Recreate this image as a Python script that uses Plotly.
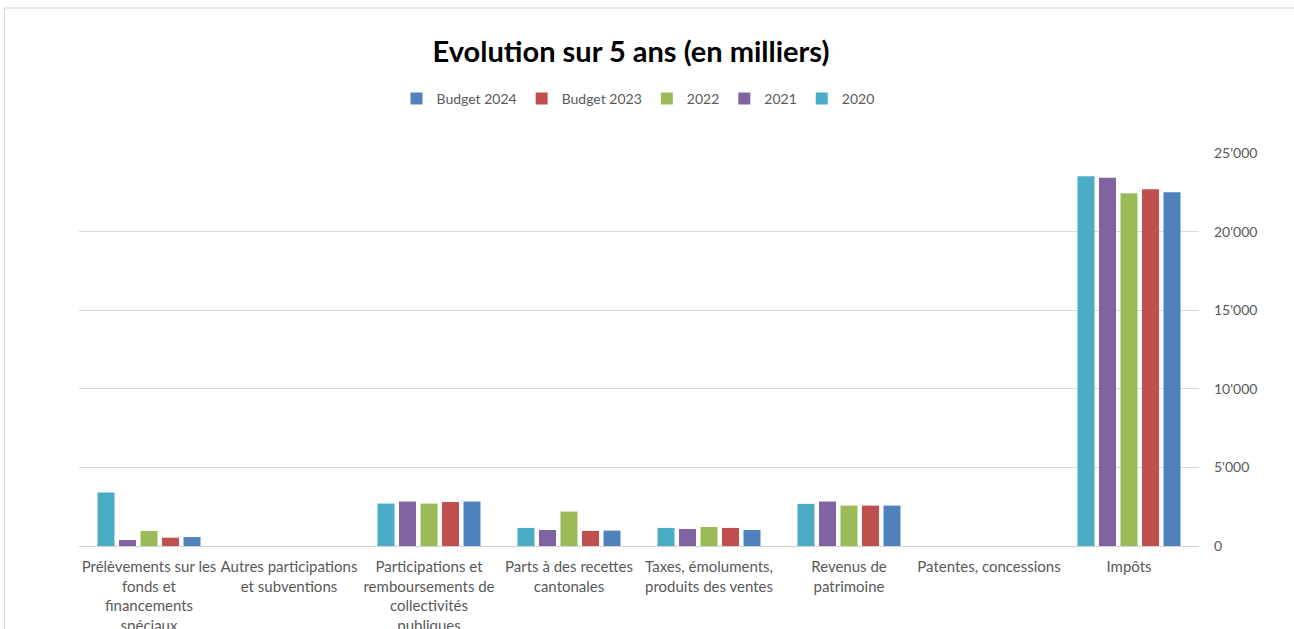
import plotly.graph_objects as go

categories = [
    "Prélèvements sur les<br>fonds et<br>financements<br>spéciaux",
    "Autres participations<br>et subventions",
    "Participations et<br>remboursements de<br>collectivités<br>publiques",
    "Parts à des recettes<br>cantonales",
    "Taxes, émoluments,<br>produits des ventes",
    "Revenus de<br>patrimoine",
    "Patentes, concessions",
    "Impôts",
]

v2020 = [3400, 0, 2700, 1150, 1150, 2680, 0, 23520]
v2021 = [380, 0, 2830, 1020, 1080, 2830, 0, 23420]
v2022 = [955, 0, 2700, 2190, 1210, 2570, 0, 22440]
vb2023 = [530, 0, 2800, 960, 1150, 2570, 0, 22690]
vb2024 = [570, 0, 2830, 980, 1020, 2570, 0, 22500]

series = [
    ("2020", v2020, "#4BACC6"),
    ("2021", v2021, "#8064A2"),
    ("2022", v2022, "#9BBB59"),
    ("Budget 2023", vb2023, "#C0504D"),
    ("Budget 2024", vb2024, "#4F81BD"),
]

FONT = "Lato, Carlito, Calibri, sans-serif"
GREY = "#595959"

fig = go.Figure()
for name, vals, col in series:
    fig.add_trace(go.Bar(x=categories, y=vals, name=name,
                         marker=dict(color=col, line=dict(width=0))))

W, H = 1294, 629
L, R, T, B = 79, 95, 153, 83
pw, ph = W - L - R, H - T - B

def px_x(p):
    return (p - L) / pw

def px_y(p):
    return (H - B - p) / ph

fig.update_layout(
    width=W, height=H,
    margin=dict(l=L, r=R, t=T, b=B, autoexpand=False),
    paper_bgcolor="white", plot_bgcolor="white",
    separators=".'",
    barmode="group", bargap=0.232, bargroupgap=0.21,
    font=dict(family=FONT, size=15, color=GREY),
    title=dict(text="<b>Evolution sur 5 ans (en milliers)</b>",
               font=dict(family=FONT, size=29, color="black"),
               x=px_x(631), xref="paper", xanchor="center",
               y=1 - 52 / H, yref="container", yanchor="middle"),
    legend=dict(orientation="h", traceorder="reversed",
                x=px_x(638), xanchor="center", y=px_y(99), yanchor="middle",
                font=dict(family=FONT, size=14, color=GREY),
                itemwidth=30, bgcolor="rgba(0,0,0,0)"),
    xaxis=dict(showgrid=False, showline=False, ticks="", automargin=False,
               tickfont=dict(family=FONT, size=15, color=GREY), tickangle=0,
               ticklabelstandoff=10),
    yaxis=dict(side="right", range=[0, 25000], dtick=5000, tickformat=",d",
               automargin=False,
               showgrid=True, gridcolor="#D9D9D9", gridwidth=1,
               zeroline=True, zerolinecolor="#D0D0D0", zerolinewidth=1,
               showline=False, ticks="", ticklabelstandoff=14,
               tickfont=dict(family=FONT, size=14, color=GREY)),
    showlegend=True,
)

# chart frame (top and left edges visible)
fig.add_shape(type="line", xref="paper", yref="paper",
              x0=px_x(4.5), x1=px_x(1300), y0=px_y(8), y1=px_y(8),
              line=dict(color="#D9D9D9", width=1))
fig.add_shape(type="line", xref="paper", yref="paper",
              x0=px_x(4.5), x1=px_x(4.5), y0=px_y(8), y1=px_y(640),
              line=dict(color="#D9D9D9", width=1))

fig.write_html("out.html", config={"displayModeBar": False},
               post_script="document.body.style.margin='0';document.body.style.overflow='hidden';")
